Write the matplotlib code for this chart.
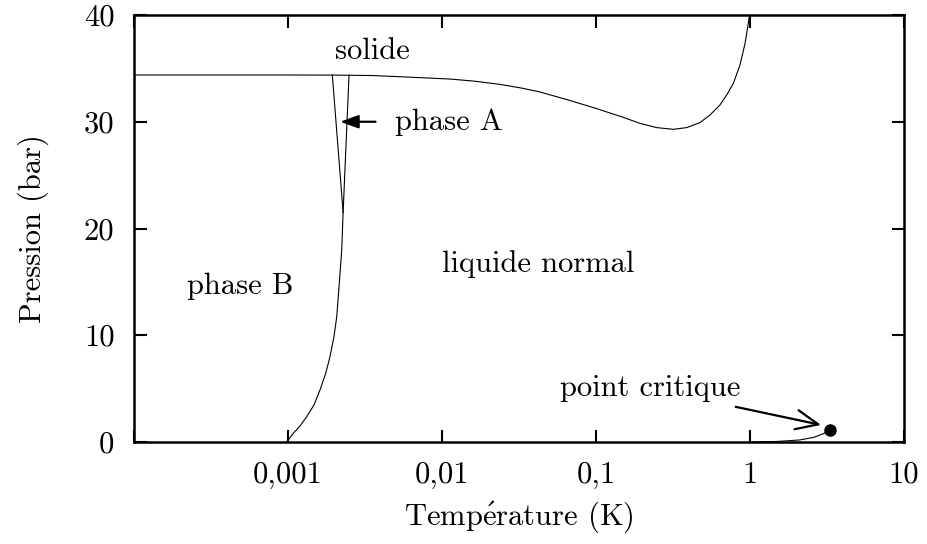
import numpy as np
import matplotlib
matplotlib.use("Agg")
import matplotlib.pyplot as plt

plt.rcParams['font.family'] = ['cmr10', 'DejaVu Serif']
plt.rcParams['axes.unicode_minus'] = False
plt.rcParams['mathtext.fontset'] = 'cm'

# courbe de fusion (solide / liquide)
T_fusion = [1e-4, 0.001, 0.002, 0.0035, 0.0053, 0.0113, 0.0163, 0.0238, 0.033, 0.0432,
            0.0646, 0.0995, 0.1505, 0.1931, 0.2477, 0.318, 0.388, 0.473, 0.5495, 0.638,
            0.706, 0.780, 0.861, 0.929, 0.990, 1.01]
P_fusion = [34.38, 34.38, 34.37, 34.33, 34.22, 34.0, 33.8, 33.5, 33.15, 32.79,
            32.08, 31.26, 30.41, 29.85, 29.45, 29.29, 29.45, 29.92, 30.63, 31.57,
            32.51, 33.60, 35.32, 37.35, 39.84, 40.5]

# transition A-B
T_AB = [0.00194, 0.00228]
P_AB = [34.38, 21.5]

# transition A-normal puis B-normal
T_N = [0.00249, 0.00228, 0.002233, 0.002153, 0.002072, 0.001989, 0.001873, 0.001757,
       0.001613, 0.001475, 0.001322, 0.001196, 0.001082, 0.00098]
P_N = [34.36, 21.5, 17.99, 14.86, 11.74, 9.87, 7.99, 6.43,
       4.87, 3.47, 2.37, 1.50, 0.81, 0.0]

# courbe liquide-gaz
T_vap = [1.0, 1.5, 2.1, 2.6, 3.0, 3.3]
P_vap = [0.01, 0.05, 0.19, 0.44, 0.78, 1.15]

# point critique
Tc, Pc = 3.3, 1.15

xticks = [1e-4, 1e-3, 1e-2, 1e-1, 1, 10]
xlabels = ['', '0,001', '0,01', '0,1', '1', '10']
yticks = [0, 10, 20, 30, 40]

fs = 22

fig = plt.figure(figsize=(9.28, 5.44), dpi=100)
ax = fig.add_axes([134/928, 1-442/544, 770/928, 427/544])

ax.plot(T_fusion, P_fusion, color='black', lw=0.8)
ax.plot(T_AB, P_AB, color='black', lw=0.8)
ax.plot(T_N, P_N, color='black', lw=0.8)
ax.plot(T_vap, P_vap, color='black', lw=0.8)
ax.plot([Tc], [Pc], 'o', color='black', ms=8)

ax.set_xscale('log')
ax.set_xlim(1e-4, 10)
ax.set_ylim(0, 40)
ax.set_xticks(xticks)
ax.set_xticklabels(xlabels)
ax.set_yticks(yticks)
ax.minorticks_off()
ax.tick_params(direction='in', length=9, width=1.5, top=True, right=True,
               labelsize=fs, pad=14)
for s in ax.spines.values():
    s.set_linewidth(1.8)

ax.set_xlabel(r'Temp$\mathrm{\acute{e}}$rature (K)', fontsize=fs, labelpad=8)
ax.set_ylabel('Pression (bar)', fontsize=fs, labelpad=25)

# textes
ax.text(0.00351, 36.6, 'solide', fontsize=fs, ha='center', va='center')
ax.text(0.000488, 14.6, 'phase B', fontsize=fs, ha='center', va='center')
ax.text(0.0422, 16.7, 'liquide normal', fontsize=fs, ha='center', va='center')
ax.annotate('phase A', xy=(0.00218, 30), xytext=(0.00495, 30), fontsize=fs,
            ha='left', va='center',
            arrowprops=dict(arrowstyle='-|>,head_length=0.55,head_width=0.2',
                            color='black', lw=1.6, shrinkA=12, shrinkB=0,
                            mutation_scale=20))
ax.annotate('point critique', xy=(2.89, 1.6), xytext=(0.86, 5.0), fontsize=fs,
            ha='right', va='center',
            arrowprops=dict(arrowstyle='->,head_length=0.8,head_width=0.35',
                            color='black', lw=1.6, shrinkA=6, shrinkB=0,
                            mutation_scale=20))

fig.savefig('out.png', dpi=100)
